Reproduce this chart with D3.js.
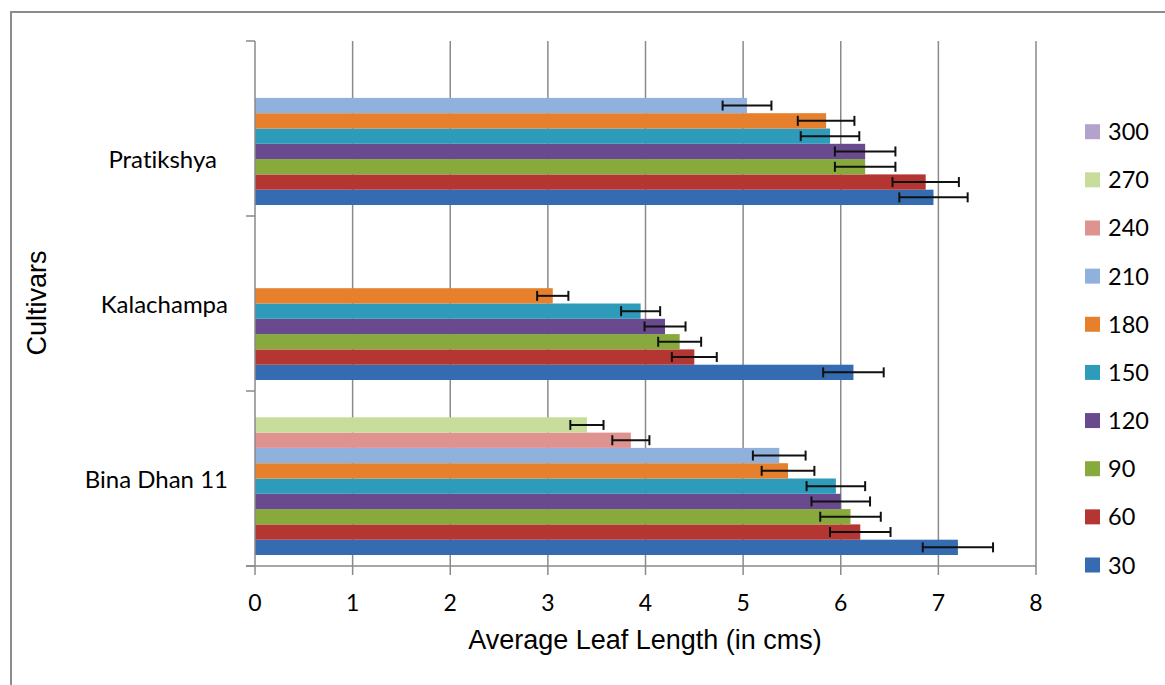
<!DOCTYPE html>
<html><head><meta charset="utf-8">
<script src="https://cdn.jsdelivr.net/npm/d3@7"></script>
<style>
html,body{margin:0;padding:0;background:#fff;}
svg{display:block;}
text{font-variant-ligatures:none;font-feature-settings:"liga" 0;}
</style></head>
<body>
<svg id="chart" width="1165" height="685"></svg>
<script>
// ---- DATA ----
const categories = ["Pratikshya", "Kalachampa", "Bina Dhan 11"]; // top to bottom
const seriesNames = ["30","60","90","120","150","180","210","240","270","300"];
// values in order: Pratikshya, Kalachampa, Bina Dhan 11
const v30  = [6.95, 6.13, 7.20];
const v60  = [6.87, 4.50, 6.20];
const v90  = [6.25, 4.35, 6.10];
const v120 = [6.25, 4.20, 6.00];
const v150 = [5.89, 3.95, 5.95];
const v180 = [5.85, 3.05, 5.46];
const v210 = [5.04, null, 5.37];
const v240 = [null, null, 3.85];
const v270 = [null, null, 3.40];
const v300 = [null, null, null];
const e30  = [0.35, 0.31, 0.36];
const e60  = [0.34, 0.23, 0.31];
const e90  = [0.31, 0.22, 0.31];
const e120 = [0.31, 0.21, 0.30];
const e150 = [0.30, 0.20, 0.30];
const e180 = [0.29, 0.16, 0.27];
const e210 = [0.25, null, 0.27];
const e240 = [null, null, 0.19];
const e270 = [null, null, 0.17];
const e300 = [null, null, null];
const xTicks = [0,1,2,3,4,5,6,7,8];
const colors = ["#356BB0","#B33633","#88AA3D","#6A4A8F","#2E9BBB","#E6802D","#91B1DD","#DF9391","#C8DC9C","#B3A2CC"];

const values = [v30,v60,v90,v120,v150,v180,v210,v240,v270,v300];
const errors = [e30,e60,e90,e120,e150,e180,e210,e240,e270,e300];

const svg = d3.select("#chart");
const L = 255, R = 1036, T = 41, B = 566;

// outer border
svg.append("rect").attr("x",11).attr("y",12).attr("width",1170).attr("height",700)
  .attr("fill","none").attr("stroke","#8c8c8c").attr("stroke-width",2);

const x = d3.scaleLinear().domain([0,8]).range([L,R]);
const y = d3.scaleBand().domain(categories).range([T,B]).padding(0);
const inner = d3.scaleBand().domain(seriesNames).range([y.bandwidth()-11, 11]).padding(0);

// gridlines
svg.append("g").selectAll("line").data(xTicks.slice(1)).join("line")
  .attr("x1",d=>x(d)).attr("x2",d=>x(d)).attr("y1",T).attr("y2",B)
  .attr("stroke","#8a8a8a").attr("stroke-width",1.5);

// bars
const data = [];
seriesNames.forEach((s,si)=>{
  categories.forEach((c,ci)=>{
    const v = values[si][ci];
    if (v!=null) data.push({s, si, c, v, e: errors[si][ci]});
  });
});
svg.append("g").selectAll("rect").data(data).join("rect")
  .attr("x",x(0)).attr("y",d=>y(d.c)+inner(d.s))
  .attr("width",d=>x(d.v)-x(0)).attr("height",inner.bandwidth())
  .attr("fill",d=>colors[d.si]);

// error bars
const eg = svg.append("g").attr("stroke","#111").attr("stroke-width",2);
data.filter(d=>d.e!=null).forEach(d=>{
  const cy = y(d.c)+inner(d.s)+inner.bandwidth()/2;
  eg.append("line").attr("x1",x(d.v-d.e)).attr("x2",x(d.v+d.e)).attr("y1",cy).attr("y2",cy);
  [d.v-d.e, d.v+d.e].forEach(xv=>{
    eg.append("line").attr("x1",x(xv)).attr("x2",x(xv)).attr("y1",cy-5).attr("y2",cy+5);
  });
});

// axes
const axG = svg.append("g").attr("stroke","#8a8a8a").attr("stroke-width",1.5);
axG.append("line").attr("x1",L).attr("x2",L).attr("y1",T).attr("y2",B);
axG.append("line").attr("x1",L-9).attr("x2",R).attr("y1",B).attr("y2",B);
const catTicks = categories.map(c=>y(c)).concat([B]);
axG.selectAll(".ct").data(catTicks).join("line")
  .attr("x1",L-9).attr("x2",L).attr("y1",d=>d).attr("y2",d=>d);
axG.selectAll(".xt").data(xTicks).join("line")
  .attr("x1",d=>x(d)).attr("x2",d=>x(d)).attr("y1",B).attr("y2",B+9);

// x tick labels
svg.append("g").selectAll("text").data(xTicks).join("text")
  .attr("x",d=>x(d)).attr("y",611).attr("text-anchor","middle")
  .attr("font-family","Lato, 'Open Sans', sans-serif").attr("font-size",23).attr("fill","#000")
  .text(d=>d);

// category labels
svg.append("g").selectAll("text").data(categories).join("text")
  .attr("x",(d,i)=> i===0 ? 217 : 228)
  .attr("y",(d,i)=> y(d)+y.bandwidth()/2 + (i===0 ? 31 : 1) + 8)
  .attr("text-anchor","end")
  .attr("font-family","Lato, 'Open Sans', sans-serif").attr("font-size",24).attr("fill","#000")
  .text(d=>d);

// axis titles
svg.append("text").attr("x",645).attr("y",649).attr("text-anchor","middle")
  .attr("font-family","'Liberation Sans', Arial, sans-serif").attr("font-size",27).attr("fill","#000")
  .text("Average Leaf Length (in cms)");
svg.append("text").attr("transform","translate(46,303) rotate(-90)").attr("text-anchor","middle")
  .attr("font-family","'Liberation Sans', Arial, sans-serif").attr("font-size",27).attr("fill","#000")
  .text("Cultivars");

// legend (300 at top, 30 at bottom)
const legendOrder = seriesNames.slice().reverse();
const ly = d3.scalePoint().domain(legendOrder).range([131.7, 565]);
const lg = svg.append("g").selectAll("g").data(legendOrder).join("g")
  .attr("transform",d=>`translate(1085,${ly(d)})`);
lg.append("rect").attr("x",0).attr("y",-7.5).attr("width",15).attr("height",15)
  .attr("fill",d=>colors[seriesNames.indexOf(d)]);
lg.append("text").attr("x",23).attr("y",8.5)
  .attr("font-family","Lato, 'Open Sans', sans-serif").attr("font-size",23.5).attr("fill","#000")
  .text(d=>d);
</script>
</body></html>
